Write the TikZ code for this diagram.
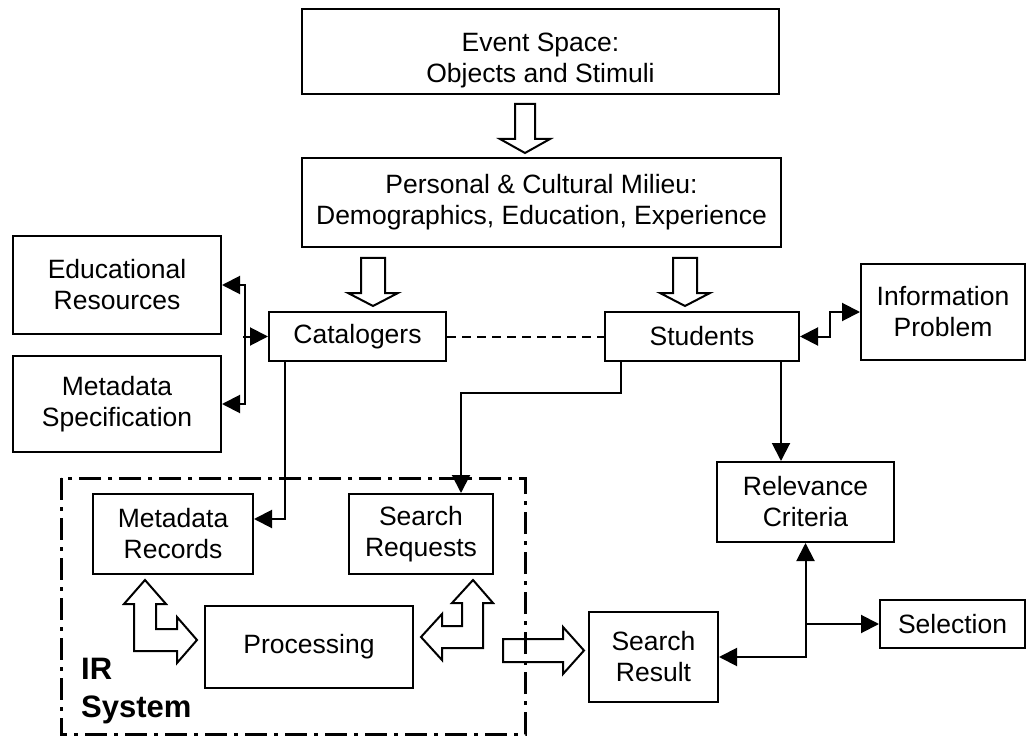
\documentclass[tikz,border=0pt]{standalone}
\usepackage{fontspec}
\setmainfont{Liberation Sans}
\usetikzlibrary{arrows.meta}
\begin{document}
\begin{tikzpicture}[x=1pt,y=-1pt,
  >={Triangle[length=18pt,width=18pt]},
  box/.style={draw, line width=2pt, fill=white, align=center, inner sep=0pt,
    font=\fontsize{26.5}{31}\selectfont},
  link/.style={line width=2pt},
  hollow/.style={draw, line width=2pt, fill=white, line join=miter},
  irline/.style={line width=3pt, dash pattern=on 22pt off 7pt on 4pt off 7pt}]
\useasboundingbox (0,0) rectangle (1031,738);

% boxes
\node[box, minimum width=477pt, minimum height=85pt] (event) at (540.5,51.5) {\rule{0pt}{36pt}Event Space:\\Objects and Stimuli};
\node[box, minimum width=479pt, minimum height=89pt] (milieu) at (541.5,202.5) {Personal \& Cultural Milieu:\\Demographics, Education, Experience};
\node[box, minimum width=208pt, minimum height=98pt] (edu) at (117,285) {Educational\\Resources};
\node[box, minimum width=208pt, minimum height=96pt] (spec) at (117,404) {Metadata\\Specification};
\node[box, minimum width=177pt, minimum height=49pt] (cat) at (357.5,336.5) {Catalogers};
\node[box, minimum width=194pt, minimum height=49pt] (stud) at (702,336.5) {Students};
\node[box, minimum width=164pt, minimum height=96pt] (info) at (943,312) {Information\\Problem};
\node[box, minimum width=177pt, minimum height=80pt] (rel) at (805.5,502) {Relevance\\Criteria};
\node[box, minimum width=145pt, minimum height=48pt] (sel) at (952.5,624) {Selection};
\node[box, minimum width=129pt, minimum height=90pt] (res) at (653.5,657) {Search\\Result};
\node[box, minimum width=160pt, minimum height=80pt] (mdr) at (173,534) {Metadata\\Records};
\node[box, minimum width=144pt, minimum height=80pt] (req) at (421,534) {Search\\Requests};
\node[box, minimum width=208pt, minimum height=82pt] (proc) at (309,647) {Processing};

% connectors
\draw[link, <->] (edu.east) -| ([xshift=23pt]spec.east) -- (spec.east);
\draw[link, ->] ([xshift=-25pt]cat.west) -- (cat.west);
\draw[link, dash pattern=on 9pt off 6pt] (cat.east) -- (stud.west);
\draw[link, <->] (stud.east) -- ++(30,0) |- (info.west);
\draw[link, ->] ([xshift=-72.5pt]cat.south) |- ([yshift=15pt]mdr.east);
\draw[link, ->] ([xshift=-81pt]stud.south) -- ++(0,31) -| ([xshift=40pt]req.north);
\draw[link, ->] ([xshift=79pt]stud.south) -- ([xshift=-24.5pt]rel.north);
\draw[link, <->] (res.east) -| (rel.south);
\draw[link, ->] (rel.south |- sel.west) -- (sel.west);

% block arrows
\draw[hollow] (515,104) -- (535,104) -- (535,139) -- (550,139) -- (525,153) -- (500,139) -- (515,139) -- cycle;
\draw[hollow] (361,258) -- (385,258) -- (385,293) -- (398,293) -- (373,306) -- (348,293) -- (361,293) -- cycle;
\draw[hollow] (673,258) -- (697,258) -- (697,293) -- (710,293) -- (685,306) -- (660,293) -- (673,293) -- cycle;
\draw[hollow] (145,580) -- (166,604) -- (156,604) -- (156,629) -- (177,629) -- (177,617) -- (197,640)
  -- (177,663) -- (177,651) -- (134,651) -- (134,604) -- (124,604) -- cycle;
\draw[hollow] (473,580) -- (493,603) -- (483,603) -- (483,648) -- (442,648) -- (442,660) -- (421,637)
  -- (442,614) -- (442,626) -- (462,626) -- (462,603) -- (452,603) -- cycle;
\draw[hollow] (503,639) -- (563,639) -- (563,627) -- (584,650.5) -- (563,674) -- (563,662) -- (503,662) -- cycle;

% IR system frame
\draw[irline] (61,478) rectangle (525,734);
\node[anchor=north west, inner sep=0pt, align=left,
  font=\bfseries\fontsize{31}{38}\selectfont] (irlabel) at (81,658) {IR\\System};
\end{tikzpicture}
\end{document}
